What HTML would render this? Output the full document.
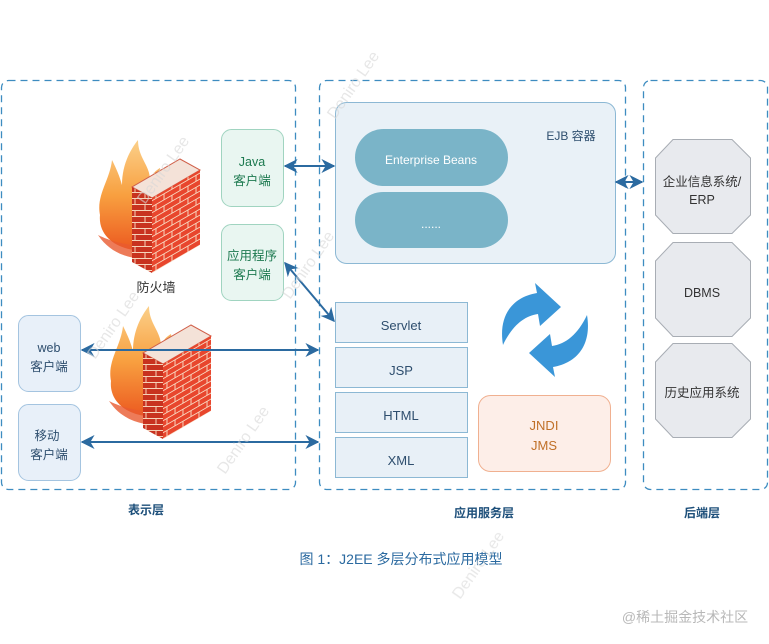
<!DOCTYPE html>
<html><head><meta charset="utf-8"><style>
body{margin:0;background:#fff}
svg{display:block}
text{font-family:"Liberation Sans","Noto Sans CJK SC",sans-serif}
</style></head><body>
<svg width="769" height="644" viewBox="0 0 769 644" xmlns="http://www.w3.org/2000/svg">
<defs>
<pattern id="brickF" width="20" height="12" patternUnits="userSpaceOnUse">
<rect width="20" height="12" fill="#c8321f"/>
<path d="M0 0.5H20M0 6.5H20M5 0V6M15 6V12" stroke="#f6d2b8" stroke-width="1"/>
</pattern>
<pattern id="brickS" width="16" height="12" patternUnits="userSpaceOnUse" patternTransform="skewY(-30)">
<rect width="16" height="12" fill="#e8462d"/>
<path d="M0 0.5H16M0 6.5H16M4 0V6M12 6V12" stroke="#f8d8c0" stroke-width="1"/>
</pattern>
<linearGradient id="fire" x1="0" y1="0" x2="0" y2="1">
<stop offset="0" stop-color="#fbd08a"/><stop offset="0.5" stop-color="#f8a040"/><stop offset="1" stop-color="#ec5a20"/>
</linearGradient>
<g id="fw">
<path d="M100 215 C96 195 110 180 112 160 C118 172 120 178 122 185 C122 165 130 150 138 140 C138 158 150 165 150 180 C153 172 157 170 160 168 L165 200 L135 250 C115 248 98 235 100 215 Z" fill="url(#fire)"/>
<path d="M98 235 C108 250 122 256 135 258 L134 245 C118 244 104 238 98 235Z" fill="#e85a30" opacity="0.8"/>
<polygon points="132,187 152,198 200,170 180,159" fill="#f4e2d8" stroke="#d0604a" stroke-width="1"/>
<polygon points="132,187 152,198 152,273 132,262" fill="url(#brickF)"/>
<polygon points="152,198 200,170 200,245 152,273" fill="url(#brickS)"/>
</g>
<marker id="ah" viewBox="0 0 10 10" refX="9" refY="5" markerWidth="7" markerHeight="7" orient="auto-start-reverse">
<path d="M0 0L10 5L0 10L3 5Z" fill="#2b6aa0"/>
</marker>
</defs>

<!-- panels -->
<g fill="none" stroke="#3d8cc0" stroke-width="1.3" stroke-dasharray="7,5">
<rect x="1.5" y="80.5" width="294" height="409" rx="7"/>
<rect x="319.5" y="80.5" width="306" height="409" rx="7"/>
<rect x="643.5" y="80.5" width="124" height="409" rx="7"/>
</g>

<!-- firewalls -->
<use href="#fw"/>
<use href="#fw" transform="translate(11,166)"/>
<text x="156" y="292" font-size="13" fill="#333" text-anchor="middle">防火墙</text>

<!-- EJB container -->
<rect x="335.5" y="102.5" width="280" height="161" rx="11" fill="#e9f1f7" stroke="#8cb8d4"/>
<text x="571" y="140" font-size="12" fill="#2e4e6e" text-anchor="middle">EJB 容器</text>
<rect x="355" y="129" width="153" height="57" rx="28.5" fill="#7ab4c8"/>
<text x="431" y="164" font-size="12" fill="#fff" text-anchor="middle">Enterprise Beans</text>
<rect x="355" y="192" width="153" height="56" rx="28" fill="#7ab4c8"/>
<text x="431" y="228" font-size="12" fill="#fff" text-anchor="middle">......</text>

<!-- web stack -->
<g fill="#e8f0f7" stroke="#8cb8d4">
<rect x="335.5" y="302.5" width="132" height="40"/>
<rect x="335.5" y="347.5" width="132" height="40"/>
<rect x="335.5" y="392.5" width="132" height="40"/>
<rect x="335.5" y="437.5" width="132" height="40"/>
</g>
<g font-size="13" fill="#2e4e6e" text-anchor="middle">
<text x="401" y="330">Servlet</text>
<text x="401" y="375">JSP</text>
<text x="401" y="420">HTML</text>
<text x="401" y="465">XML</text>
</g>

<!-- JNDI -->
<rect x="478.5" y="395.5" width="132" height="76" rx="12" fill="#fdeee8" stroke="#f0b090"/>
<text x="544" y="430" font-size="13" fill="#c07028" text-anchor="middle">JNDI</text>
<text x="544" y="450" font-size="13" fill="#c07028" text-anchor="middle">JMS</text>

<!-- refresh arrows -->
<path d="M503 345 C498 315 513 297 537 293 L535 283 L561 307 L540 326 L538 314 C524 316 512 326 503 345 Z" fill="#3a96d8"/>
<path d="M587 315 C592 345 577 363 553 367 L555 377 L529 353 L550 334 L552 346 C566 344 578 334 587 315 Z" fill="#3a96d8"/>

<!-- clients -->
<rect x="221.5" y="129.5" width="62" height="77" rx="10" fill="#e9f6f1" stroke="#a0d4c0"/>
<text x="252" y="166" font-size="12.5" fill="#1d7a50" text-anchor="middle">Java</text>
<text x="252" y="185" font-size="12.5" fill="#1d7a50" text-anchor="middle">客户端</text>
<rect x="221.5" y="224.5" width="62" height="76" rx="10" fill="#e9f6f1" stroke="#a0d4c0"/>
<text x="252" y="260" font-size="12.5" fill="#1d7a50" text-anchor="middle">应用程序</text>
<text x="252" y="279" font-size="12.5" fill="#1d7a50" text-anchor="middle">客户端</text>
<rect x="18.5" y="315.5" width="62" height="76" rx="10" fill="#e8f0f9" stroke="#a4c4e0"/>
<text x="49" y="352" font-size="12.5" fill="#2e4e6e" text-anchor="middle">web</text>
<text x="49" y="371" font-size="12.5" fill="#2e4e6e" text-anchor="middle">客户端</text>
<rect x="18.5" y="404.5" width="62" height="76" rx="10" fill="#e8f0f9" stroke="#a4c4e0"/>
<text x="47" y="440" font-size="12.5" fill="#2e4e6e" text-anchor="middle">移动</text>
<text x="49" y="459" font-size="12.5" fill="#2e4e6e" text-anchor="middle">客户端</text>

<!-- octagons -->
<g fill="#e8eaee" stroke="#a8adb4">
<polygon points="673,139.5 732,139.5 750.5,158 750.5,215 732,233.5 673,233.5 655.5,215 655.5,158"/>
<polygon points="673,242.5 732,242.5 750.5,261 750.5,318 732,336.5 673,336.5 655.5,318 655.5,261"/>
<polygon points="673,343.5 732,343.5 750.5,362 750.5,419 732,437.5 673,437.5 655.5,419 655.5,362"/>
</g>
<g font-size="12.5" fill="#333" text-anchor="middle">
<text x="702" y="186">企业信息系统/</text>
<text x="702" y="204">ERP</text>
<text x="702" y="297">DBMS</text>
<text x="702" y="397">历史应用系统</text>
</g>

<!-- connectors -->
<g stroke="#2b6aa0" stroke-width="2" fill="none" marker-start="url(#ah)" marker-end="url(#ah)">
<line x1="285" y1="166" x2="334" y2="166"/>
<line x1="285" y1="263" x2="334" y2="321"/>
<line x1="82" y1="350" x2="318" y2="350"/>
<line x1="82" y1="442" x2="318" y2="442"/>
<line x1="616" y1="182" x2="642" y2="182"/>
</g>

<!-- layer labels -->
<g font-size="12" font-weight="bold" fill="#1d4f7a" text-anchor="middle">
<text x="146" y="514">表示层</text>
<text x="484" y="517">应用服务层</text>
<text x="702" y="517">后端层</text>
</g>
<text x="401" y="564" font-size="14" fill="#2b6aa0" text-anchor="middle">图 1：J2EE 多层分布式应用模型</text>
<text x="685" y="622" font-size="14" fill="#b8b8b8" text-anchor="middle">@稀土掘金技术社区</text>

<!-- watermarks -->
<g font-size="16" fill="#d8d8d8" opacity="0.6">
<text transform="translate(145,205) rotate(-55)">Deniro Lee</text>
<text transform="translate(335,120) rotate(-55)">Deniro Lee</text>
<text transform="translate(95,360) rotate(-55)">Deniro Lee</text>
<text transform="translate(290,300) rotate(-55)">Deniro Lee</text>
<text transform="translate(225,475) rotate(-55)">Deniro Lee</text>
<text transform="translate(460,600) rotate(-55)">Deniro Lee</text>
</g>
</svg>
</body></html>
